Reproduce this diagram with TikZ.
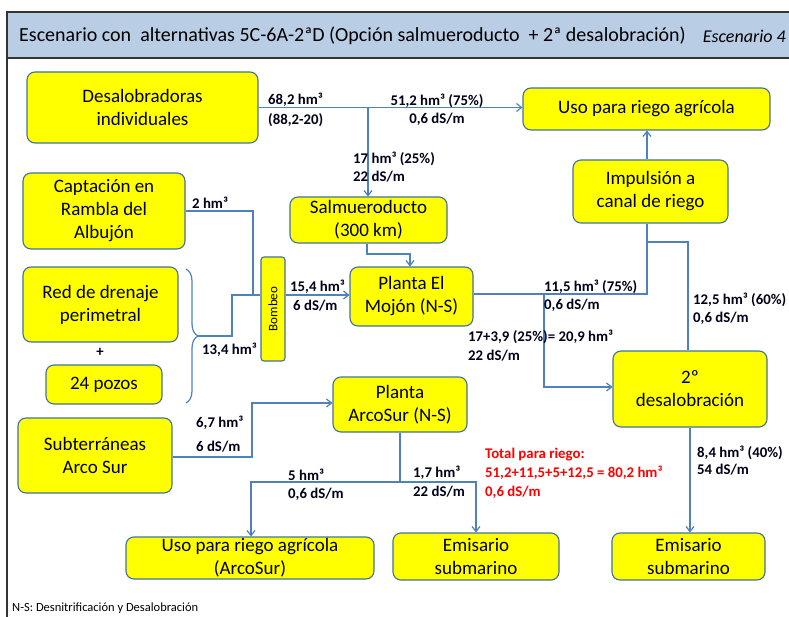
\documentclass[tikz,border=0pt]{standalone}
\usepackage{fontspec}
\setmainfont{Carlito}
\usetikzlibrary{calc,arrows.meta,decorations.pathreplacing}

\definecolor{boxYellow}{HTML}{FFFF00}
\definecolor{boxEdge}{HTML}{41719C}
\definecolor{flowBlue}{HTML}{4F81BD}
\definecolor{titleBlue}{HTML}{B9CDE5}

\begin{document}
\begin{tikzpicture}[x=1pt,y=-1pt]
%styles
\tikzstyle{boxNode}=[rectangle, rounded corners=8pt, draw=boxEdge, line width=1.1pt, fill=boxYellow, align=center, inner sep=0pt, font=\fontsize{19}{23}\selectfont]
\tikzstyle{textLine}=[rectangle, inner sep=0pt, anchor=west, text=black!90!blue, font=\fontsize{14.8}{16}\selectfont\bfseries]
\tikzstyle{textRed}=[textLine, text=red]
\tikzstyle{pipe}=[flowBlue, line width=1.2pt]
\tikzstyle{vector}=[pipe, -{Straight Barb[length=5pt,width=8pt]}]

\useasboundingbox (0,0) rectangle (789,617);

%cadre
\fill[titleBlue] (7,12) rectangle (800,58);
\draw[line width=1.5pt, black!80] (7,617) -- (7,12) -- (800,12);
\draw[line width=1.2pt, black!80] (7,58) -- (800,58);
\node[textLine, text=black, font=\fontsize{20}{22}\selectfont] (title) at (19,36) {Escenario con\ \ alternativas 5C-6A-2ªD (Opción salmueroducto\ \ + 2ª desalobración)};
\node[textLine, text=black, anchor=east, font=\fontsize{18}{20}\selectfont\itshape] (scen) at (786,36) {Escenario 4};

%boxes
\node[boxNode, minimum width=231, minimum height=71] (desal) at (142.5,107.5) {Desalobradoras\\individuales};
\node[boxNode, minimum width=247, minimum height=42] (usoTop) at (646.5,109) {Uso para riego agrícola};
\node[boxNode, minimum width=155, minimum height=63] (impul) at (650.5,191.5) {Impulsión a\\canal de riego};
\node[boxNode, minimum width=162, minimum height=76] (capta) at (104,211) {Captación en\\Rambla del\\Albujón};
\node[boxNode, minimum width=157, minimum height=46] (salmu) at (368.5,220) {Salmueroducto\\(300 km)};
\node[boxNode, minimum width=155, minimum height=75] (drena) at (100.5,304.5) {Red de drenaje\\perimetral};
\node[textLine, anchor=center] (plus) at (100,352) {+};
\node[boxNode, minimum width=116, minimum height=39] (pozos) at (104,384.5) {24 pozos};
\node[boxNode, rounded corners=3pt, minimum width=24, minimum height=104, font=\fontsize{13}{14}\selectfont] (bombeo) at (273,309) {\rotatebox{90}{Bombeo}};
\node[boxNode, minimum width=123, minimum height=59] (mojon) at (411.5,296.5) {Planta El\\Mojón (N-S)};
\node[boxNode, minimum width=154, minimum height=76] (desal2) at (690,389) {2º\\desalobración};
\node[boxNode, minimum width=154, minimum height=75] (subte) at (95,455.5) {Subterráneas\\Arco Sur};
\node[boxNode, minimum width=134, minimum height=55] (arcosur) at (400,404.5) {Planta\\ArcoSur (N-S)};
\node[boxNode, minimum width=248, minimum height=42] (usoArco) at (250,558) {Uso para riego agrícola\\(ArcoSur)};
\node[boxNode, minimum width=166, minimum height=47] (emis1) at (476,556.5) {Emisario\\submarino};
\node[boxNode, minimum width=153, minimum height=47] (emis2) at (688.5,556.5) {Emisario\\submarino};

%flows
\coordinate (jDesal) at (368,108);
\draw[vector] (desal.east) -- (desal.east -| usoTop.west);
\draw[vector] (jDesal) -- (jDesal |- salmu.north);

\coordinate (jCapta) at (253,211);
\coordinate (jBomb) at (253,295);
\draw[pipe] (capta.east |- jCapta) -- (jCapta) -- (jBomb) -- (jBomb -| bombeo.west);

\draw[pipe, decorate, decoration={brace, amplitude=12pt, aspect=0.5}] (186,269) -- (186,403);
\coordinate (braceTip) at (198,336);
\coordinate (jDren1) at (232,336);
\coordinate (jDren2) at (232,295);
\draw[pipe] (braceTip) -- (jDren1) -- (jDren2) -- (jBomb);

\draw[vector] (bombeo.east |- jBomb) -- (mojon.west |- jBomb);

\coordinate (jSalmu1) at (367,254);
\coordinate (jSalmu2) at (410,254);
\draw[vector] (salmu.south -| jSalmu1) -- (jSalmu1) -- (jSalmu2) -- (jSalmu2 |- mojon.north);

\coordinate (jMojon) at (544,294);
\coordinate (jImpul) at (647,294);
\draw[pipe] (mojon.east |- jMojon) -- (jImpul) -- (jImpul |- impul.south);
\coordinate (jDes2) at (544,387);
\draw[vector] (jMojon) -- (jDes2) -- (jDes2 -| desal2.west);

\coordinate (jUp1) at (688,242);
\coordinate (jUp2) at (647,242);
\draw[pipe] (desal2.north -| jUp1) -- (jUp1) -- (jUp2);
\draw[vector] (impul.north -| jImpul) -- (usoTop.south -| jImpul);

\draw[vector] (desal2.south) -- (desal2.south |- emis2.north);

\coordinate (jSub1) at (252,457);
\coordinate (jSub2) at (252,403);
\draw[vector] (subte.east |- jSub1) -- (jSub1) -- (jSub2) -- (jSub2 -| arcosur.west);

\coordinate (jArco) at (400,482);
\coordinate (jLeft) at (251,482);
\coordinate (jRight) at (476,482);
\draw[pipe] (arcosur.south) -- (jArco);
\draw[vector] (jArco) -- (jLeft) -- (jLeft |- usoArco.north);
\draw[vector] (jArco) -- (jRight) -- (jRight |- emis1.north);

%text
\node[textLine] (t1a) at (268,100) {68,2 hm³};
\node[textLine] (t1b) at (268,120) {(88,2-20)};
\node[textLine, anchor=center] (t2a) at (437,101) {51,2 hm³ (75\%)};
\node[textLine, anchor=center] (t2b) at (437,119) {0,6 dS/m};
\node[textLine] (t3a) at (353,159) {17 hm³ (25\%)};
\node[textLine] (t3b) at (353,177) {22 dS/m};
\node[textLine] (t4) at (192,203) {2 hm³};
\node[textLine] (t5) at (202,350) {13,4 hm³};
\node[textLine] (t6a) at (290,287) {15,4 hm³};
\node[textLine] (t6b) at (293,306) {6 dS/m};
\node[textLine] (t7a) at (544,287) {11,5 hm³ (75\%)};
\node[textLine] (t7b) at (544,305) {0,6 dS/m};
\node[textLine] (t8a) at (693,300) {12,5 hm³ (60\%)};
\node[textLine] (t8b) at (693,318) {0,6 dS/m};
\node[textLine] (t9a) at (468,337) {17+3,9 (25\%)= 20,9 hm³};
\node[textLine] (t9b) at (468,356) {22 dS/m};
\node[textLine] (t10a) at (697,453) {8,4 hm³ (40\%)};
\node[textLine] (t10b) at (697,470) {54 dS/m};
\node[textLine] (t11a) at (196,423) {6,7 hm³};
\node[textLine] (t11b) at (196,447) {6 dS/m};
\node[textLine] (t12a) at (288,475) {5 hm³};
\node[textLine] (t12b) at (288,494) {0,6 dS/m};
\node[textLine] (t13a) at (413,473) {1,7 hm³};
\node[textLine] (t13b) at (413,492) {22 dS/m};
\node[textRed] (r1) at (485,455) {Total para riego:};
\node[textRed] (r2) at (485,473) {51,2+11,5+5+12,5 = 80,2 hm³};
\node[textRed] (r3) at (485,492) {0,6 dS/m};
\node[textLine, text=black, font=\fontsize{12.5}{14}\selectfont] (foot) at (12,608) {N-S: Desnitrificación y Desalobración};

\end{tikzpicture}
\end{document}
